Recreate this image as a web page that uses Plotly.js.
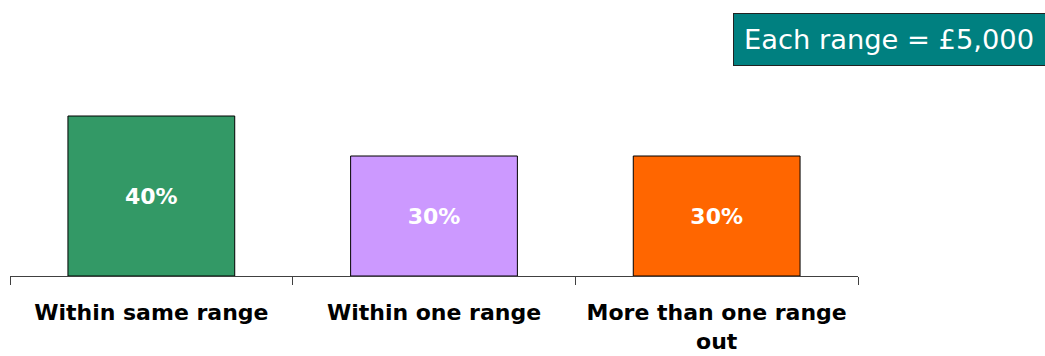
<!DOCTYPE html>
<html>
<head>
<meta charset="utf-8">
<script src="https://cdn.plot.ly/plotly-3.0.1.min.js"></script>
<style>html,body{margin:0;padding:0;background:#fff;}#chart{width:1045px;height:356px;}</style>
</head>
<body>
<div id="chart"></div>
<script>
var categories = ["Within same range", "Within one range", "More than one range<br>out"];
var values = [40, 30, 30];
var labels = ["40%", "30%", "30%"];
var colors = ["#339966", "#CC99FF", "#FF6600"];
var noteText = "Each range = £5,000";

var trace = {
  type: "bar",
  x: categories,
  y: values,
  text: labels,
  textposition: "inside",
  insidetextanchor: "middle",
  textangle: 0,
  textfont: {family: "DejaVu Sans", size: 22, color: "#ffffff", weight: "bold"},
  marker: {color: colors, line: {color: "#000000", width: 1}},
  hoverinfo: "none"
};

var layout = {
  width: 1045,
  height: 356,
  margin: {l: 10, r: 187, t: 76, b: 80},
  paper_bgcolor: "#ffffff",
  plot_bgcolor: "#ffffff",
  bargap: 0.41,
  showlegend: false,
  xaxis: {
    showline: true,
    linecolor: "#404040",
    linewidth: 1,
    ticks: "outside",
    tickson: "boundaries",
    ticklen: 8,
    tickcolor: "#404040",
    tickwidth: 1,
    showgrid: false,
    zeroline: false,
    tickfont: {family: "DejaVu Sans", size: 22, color: "#000000", weight: "bold"},
    ticklabelstandoff: 17
  },
  yaxis: {
    range: [0, 50],
    visible: false,
    showgrid: false,
    zeroline: false
  },
  annotations: [{
    text: noteText,
    xref: "paper",
    yref: "paper",
    x: 0.8526,
    y: 1.3165,
    xanchor: "left",
    yanchor: "top",
    showarrow: false,
    width: 400,
    align: "left",
    bgcolor: "#008080",
    bordercolor: "#222222",
    borderwidth: 1,
    borderpad: 10,
    font: {family: "DejaVu Sans", size: 27.3, color: "#ffffff"}
  }]
};

Plotly.newPlot("chart", [trace], layout, {displayModeBar: false, staticPlot: true});
</script>
</body>
</html>
